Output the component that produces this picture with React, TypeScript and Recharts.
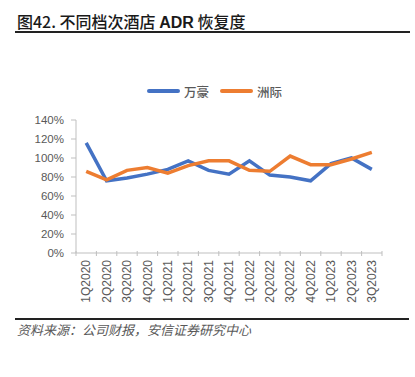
import React from 'react';
import { LineChart, Line, XAxis, YAxis } from 'recharts';

const categories = ['1Q2020','2Q2020','3Q2020','4Q2020','1Q2021','2Q2021','3Q2021','4Q2021','1Q2022','2Q2022','3Q2022','4Q2022','1Q2023','2Q2023','3Q2023'];
const marriott = [116, 76, 79, 83, 88, 97, 87, 83, 97, 82, 80, 76, 94, 100, 88];
const ihg = [86, 77, 87, 90, 84, 92, 97, 97, 87, 86, 102, 93, 93, 99, 106];
const seriesNames = ['万豪', '洲际'];
const colors = ['#4472C4', '#ED7D31'];
const yTicks = [0, 20, 40, 60, 80, 100, 120, 140];

const data = categories.map((c, i) => ({ name: c, a: marriott[i], b: ihg[i] }));

const FONT = "'Liberation Sans', Arial, 'Noto Sans CJK SC', sans-serif";
const CJK = "'Noto Sans CJK SC', 'Liberation Sans', sans-serif";

const XTick = (props: any) => {
  const { x, y, payload, index, visibleTicksCount } = props;
  const half = 10.2;
  const axisY = y - 8;
  const last = index === (visibleTicksCount ?? categories.length) - 1;
  return (
    <g>
      <line x1={x - half} y1={axisY} x2={x - half} y2={axisY + 5} stroke="#bfbfbf" />
      {last && <line x1={x + half} y1={axisY} x2={x + half} y2={axisY + 5} stroke="#bfbfbf" />}
      <text
        x={x}
        y={axisY + 9}
        transform={`rotate(-90, ${x}, ${axisY + 9})`}
        textAnchor="end"
        dy="0.35em"
        fill="#595959"
        fontSize={12}
        fontFamily={FONT}
      >
        {payload.value}
      </text>
    </g>
  );
};

export default function App() {
  return (
    <div style={{ position: 'fixed', left: 0, top: 0, width: 415, height: 377, background: '#fff', fontFamily: FONT }}>
      <div style={{ position: 'absolute', left: 17, top: 12, fontSize: 16, lineHeight: '18px', fontWeight: 500, color: '#1a1a1a', fontFamily: CJK, whiteSpace: 'nowrap' }}>
        图42. 不同档次酒店 <span style={{ fontFamily: FONT, fontWeight: 'bold' }}>ADR</span> 恢复度
      </div>
      <div style={{ position: 'absolute', left: 15, top: 31, width: 395, height: 2, background: '#222' }} />

      {seriesNames.map((n, i) => (
        <div key={n} style={{ position: 'absolute', left: 147 + i * 73, top: 82, height: 18, display: 'flex', alignItems: 'center' }}>
          <div style={{ width: 33, height: 3.5, borderRadius: 2, background: colors[i] }} />
          <span style={{ marginLeft: 4, fontSize: 12.5, color: '#595959', fontFamily: CJK, fontWeight: 500 }}>{n}</span>
        </div>
      ))}

      <div style={{ position: 'absolute', left: 0, top: 0 }}>
        <LineChart width={415} height={377} data={data} margin={{ top: 120, right: 33, left: 16, bottom: 74 }}>
          <XAxis
            dataKey="name"
            height={50}
            padding={{ left: 10.2, right: 10.2 }}
            interval={0}
            tickLine={false}
            axisLine={{ stroke: '#bfbfbf' }}
            tick={<XTick />}
            tickMargin={0}
          />
          <YAxis
            width={60}
            domain={[0, 140]}
            ticks={yTicks}
            interval={0}
            tickFormatter={(v: number) => `${v}%`}
            axisLine={{ stroke: '#bfbfbf' }}
            tickLine={{ stroke: '#bfbfbf' }}
            tickSize={5}
            tickMargin={7}
            tick={{ fill: '#595959', fontSize: 11.5, fontFamily: FONT }}
          />
          <Line dataKey="a" name={seriesNames[0]} stroke={colors[0]} strokeWidth={3.5} dot={false} isAnimationActive={false} />
          <Line dataKey="b" name={seriesNames[1]} stroke={colors[1]} strokeWidth={3.5} dot={false} isAnimationActive={false} />
        </LineChart>
      </div>

      <div style={{ position: 'absolute', left: 15, top: 318, width: 394, height: 2, background: '#222' }} />
      <div style={{ position: 'absolute', left: 17, top: 322, fontSize: 13, lineHeight: '16px', fontStyle: 'italic', color: '#595959', fontFamily: CJK, whiteSpace: 'nowrap' }}>
        资料来源：公司财报，安信证券研究中心
      </div>
    </div>
  );
}
